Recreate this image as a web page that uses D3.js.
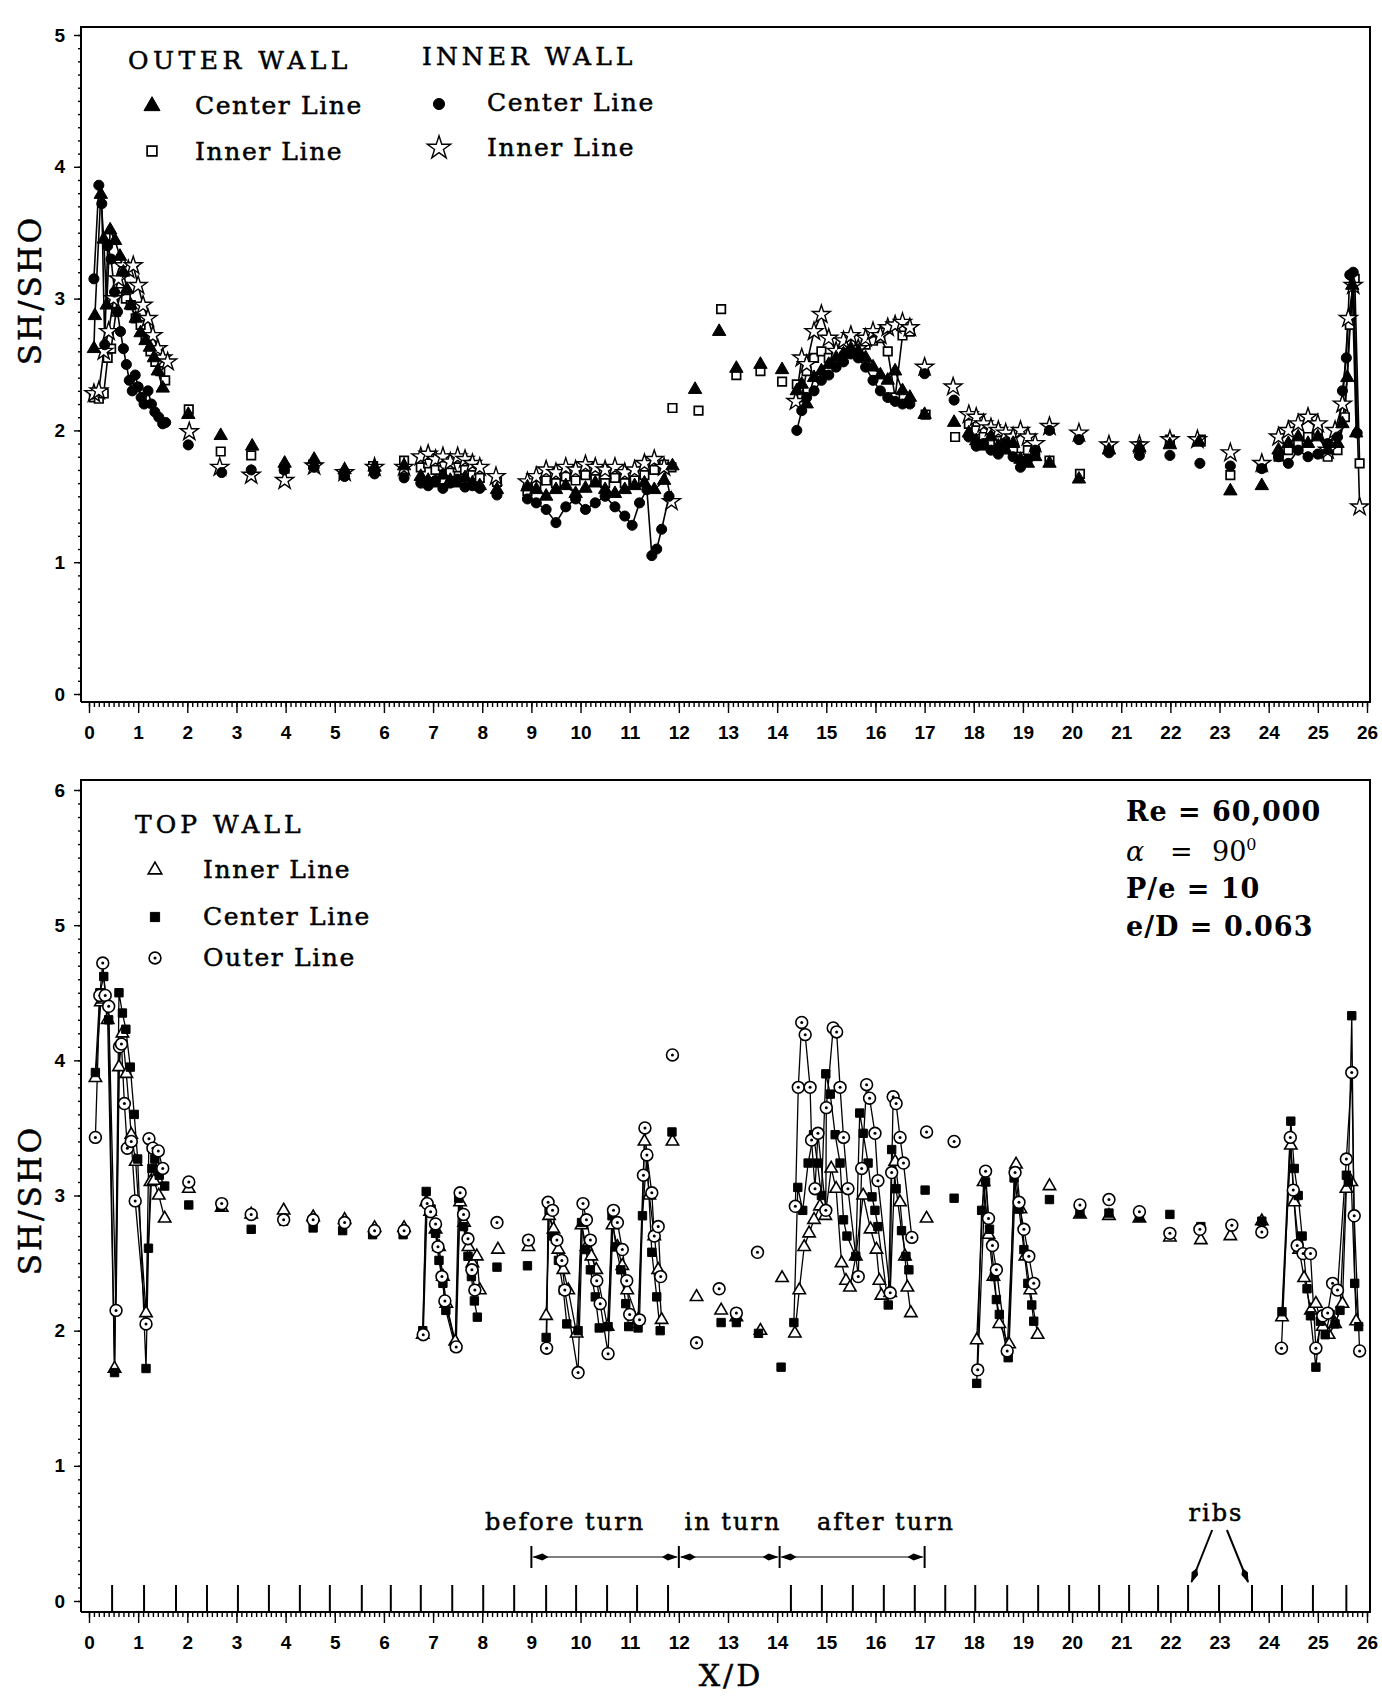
<!DOCTYPE html>
<html>
<head>
<meta charset="utf-8">
<script src="https://cdn.jsdelivr.net/npm/d3@7"></script>
<style>
  body { margin: 0; background: #fff; }
  svg { display: block; }
</style>
</head>
<body>
<svg id="chart"></svg>
<script>
// ---- axis tick labels
const xTickLabels = [0,1,2,3,4,5,6,7,8,9,10,11,12,13,14,15,16,17,18,19,20,21,22,23,24,25,26];
const yTopTicks = [0,1,2,3,4,5];
const yBotTicks = [0,1,2,3,4,5,6];

// rib positions (X/D) marked on the lower axis
const ribsBefore = [0.47,1.12,1.77,2.40,3.03,3.66,4.29,4.90,5.55,6.14,6.75,7.39,8.02,8.65,9.30,9.91,10.54,11.15,11.78];
const ribsAfter = [14.28,14.91,15.54,16.17,16.80,17.42,18.03,18.68,19.31,19.94,20.55,21.16,21.75,22.36,22.99,23.66,24.27,24.90,25.58];

// turn sections
const sectionNames = ['before turn', 'in turn', 'after turn'];
const sectionBounds = [9, 12, 14.05, 17];

// ---- top panel: outer wall / inner wall (each entry is a run, points in a run are joined)
const outerCenter = [
  [[0.10,2.62],[0.12,2.87],[0.24,3.79],[0.30,3.45],[0.36,2.95],[0.43,3.52],[0.53,3.44],[0.63,3.32],[0.70,3.20],[0.77,3.07],[0.85,2.95],[0.95,2.85],[1.05,2.74],[1.15,2.68],[1.24,2.63],[1.32,2.55],[1.40,2.45],[1.50,2.32]],
  [[2.02,2.12]],[[2.68,1.96]],[[3.32,1.88]],[[3.98,1.75]],[[4.58,1.78]],[[5.20,1.70]],[[5.81,1.72]],[[6.41,1.73]],
  [[6.75,1.65],[6.90,1.62],[7.05,1.60],[7.20,1.66],[7.35,1.62],[7.50,1.60],[7.65,1.64],[7.80,1.60],[7.95,1.58]],
  [[8.30,1.55]],[[8.92,1.57]],
  [[9.10,1.55],[9.30,1.50],[9.50,1.55],[9.70,1.58],[9.90,1.52],[10.10,1.56],[10.30,1.60],[10.50,1.55],[10.70,1.52],[10.90,1.55],[11.10,1.58],[11.30,1.60],[11.50,1.55],[11.70,1.62]],
  [[11.87,1.73]],[[12.33,2.31]],[[12.82,2.75]],[[13.17,2.47]],[[13.66,2.50]],[[14.10,2.46]],
  [[14.40,2.30],[14.50,2.35],[14.60,2.20],[14.75,2.40],[14.90,2.45],[15.05,2.50],[15.20,2.55],[15.35,2.58],[15.50,2.62],[15.65,2.60],[15.80,2.55],[15.95,2.48],[16.10,2.42],[16.25,2.38],[16.40,2.45],[16.55,2.30],[16.70,2.25]],
  [[17.00,2.12]],[[17.60,2.06]],
  [[17.90,1.98],[18.05,1.92],[18.20,1.88],[18.35,1.95],[18.50,1.88],[18.65,1.85],[18.80,1.90],[18.95,1.78],[19.10,1.75],[19.25,1.80]],
  [[19.54,1.75]],[[20.14,1.63]],[[20.75,1.85]],[[21.37,1.87]],[[21.99,1.89]],[[22.58,1.91]],[[23.22,1.54]],[[23.86,1.58]],
  [[24.20,1.85],[24.40,1.90],[24.60,1.95],[24.80,1.90],[25.00,1.95],[25.20,1.85],[25.40,1.90],[25.50,2.05],[25.60,2.40],[25.70,3.10],[25.78,1.98]]
];
const outerInner = [
  [[0.10,2.25],[0.20,2.24],[0.30,2.28],[0.38,2.55],[0.45,2.62],[0.55,2.90],[0.65,3.05],[0.75,3.00],[0.85,2.95],[0.95,2.85],[1.05,2.80],[1.15,2.70],[1.25,2.60],[1.35,2.52],[1.45,2.45],[1.55,2.38]],
  [[2.03,2.16]],[[2.68,1.84]],[[3.30,1.81]],[[3.98,1.71]],[[4.56,1.74]],[[5.18,1.67]],[[5.78,1.73]],[[6.41,1.77]],
  [[6.75,1.72],[6.90,1.75],[7.05,1.70],[7.20,1.73],[7.35,1.68],[7.50,1.72],[7.65,1.70],[7.80,1.66],[7.95,1.64]],
  [[8.30,1.61]],[[8.92,1.54]],
  [[9.10,1.58],[9.30,1.62],[9.50,1.60],[9.70,1.65],[9.90,1.62],[10.10,1.66],[10.30,1.63],[10.50,1.60],[10.70,1.64],[10.90,1.60],[11.10,1.62],[11.30,1.66],[11.50,1.70],[11.70,1.74],[11.85,1.72]],
  [[11.87,2.17]],[[12.40,2.15]],[[12.86,2.92]],[[13.17,2.42]],[[13.66,2.45]],[[14.10,2.37]],
  [[14.40,2.35],[14.50,2.25],[14.60,2.45],[14.75,2.55],[14.90,2.60],[15.05,2.55],[15.20,2.58],[15.35,2.62],[15.50,2.65],[15.65,2.60],[15.80,2.65],[15.95,2.68],[16.10,2.70],[16.25,2.60],[16.40,2.25],[16.55,2.72],[16.70,2.75]],
  [[17.02,2.12]],[[17.62,1.95]],
  [[17.90,2.05],[18.05,2.00],[18.20,1.95],[18.35,1.90],[18.50,1.92],[18.65,1.88],[18.80,1.85],[18.95,1.80],[19.10,1.85],[19.25,1.82]],
  [[19.54,1.77]],[[20.16,1.67]],[[20.75,1.88]],[[21.37,1.88]],[[21.99,1.93]],[[22.62,1.93]],[[23.22,1.66]],[[23.86,1.72]],
  [[24.20,1.80],[24.40,1.85],[24.60,1.90],[24.80,1.95],[25.00,2.00],[25.20,1.80],[25.40,1.85],[25.55,2.10],[25.65,2.80],[25.75,3.15],[25.85,1.75]]
];
const innerCenter = [
  [[0.10,3.15],[0.20,3.86],[0.26,3.72],[0.32,2.65],[0.38,3.40],[0.45,3.30],[0.52,3.05],[0.58,2.90],[0.64,2.75],[0.70,2.62],[0.76,2.50],[0.82,2.38],[0.88,2.30],[0.94,2.42],[1.00,2.33],[1.06,2.25],[1.12,2.20],[1.20,2.30],[1.27,2.20],[1.34,2.14],[1.42,2.10],[1.50,2.05],[1.56,2.06]],
  [[2.02,1.89]],[[2.70,1.68]],[[3.30,1.70]],[[3.97,1.70]],[[4.58,1.72]],[[5.20,1.65]],[[5.81,1.67]],[[6.41,1.64]],
  [[6.75,1.60],[6.90,1.58],[7.05,1.62],[7.20,1.56],[7.35,1.60],[7.50,1.63],[7.65,1.57],[7.80,1.58],[7.95,1.56]],
  [[8.30,1.51]],[[8.92,1.48]],
  [[9.10,1.45],[9.30,1.40],[9.50,1.30],[9.70,1.42],[9.90,1.48],[10.10,1.40],[10.30,1.45],[10.50,1.50],[10.70,1.42],[10.90,1.35],[11.05,1.28],[11.20,1.45],[11.35,1.55],[11.45,1.05],[11.55,1.10],[11.65,1.25],[11.80,1.50]],
  [[14.40,2.00],[14.50,2.15],[14.60,2.25],[14.75,2.30],[14.90,2.38],[15.05,2.42],[15.20,2.48],[15.35,2.52],[15.50,2.58],[15.65,2.55],[15.80,2.48],[15.95,2.38],[16.10,2.30],[16.25,2.25],[16.40,2.22],[16.55,2.20],[16.70,2.20]],
  [[17.00,2.43]],[[17.60,2.23]],
  [[17.90,1.95],[18.05,1.88],[18.20,1.90],[18.35,1.85],[18.50,1.82],[18.65,1.90],[18.80,1.80],[18.95,1.72],[19.10,1.78],[19.25,1.85]],
  [[19.54,2.00]],[[20.14,1.93]],[[20.75,1.83]],[[21.37,1.81]],[[21.99,1.81]],[[22.60,1.75]],[[23.22,1.73]],[[23.86,1.71]],
  [[24.20,1.80],[24.40,1.75],[24.60,1.85],[24.80,1.80],[25.00,1.82],[25.20,1.90],[25.40,1.95],[25.50,2.30],[25.58,2.55],[25.65,3.18],[25.72,3.20],[25.80,1.98]]
];
const innerInner = [
  [[0.10,2.28],[0.20,2.30],[0.30,2.60],[0.40,2.75],[0.50,3.00],[0.60,3.15],[0.70,3.25],[0.80,3.22],[0.90,3.25],[1.00,3.10],[1.10,2.95],[1.20,2.85],[1.30,2.72],[1.40,2.62],[1.50,2.55],[1.60,2.52]],
  [[2.04,1.99]],[[2.66,1.72]],[[3.30,1.66]],[[3.98,1.62]],[[4.58,1.73]],[[5.20,1.68]],[[5.81,1.72]],[[6.41,1.72]],
  [[6.75,1.80],[6.90,1.82],[7.05,1.78],[7.20,1.80],[7.35,1.76],[7.50,1.80],[7.65,1.78],[7.80,1.75],[7.95,1.72]],
  [[8.28,1.65]],[[8.92,1.61]],
  [[9.10,1.65],[9.30,1.70],[9.50,1.68],[9.70,1.72],[9.90,1.70],[10.10,1.74],[10.30,1.72],[10.50,1.70],[10.70,1.72],[10.90,1.68],[11.10,1.70],[11.30,1.75],[11.50,1.78],[11.70,1.72],[11.85,1.46]],
  [[14.38,2.22],[14.50,2.55],[14.60,2.50],[14.75,2.75],[14.90,2.88],[15.05,2.70],[15.20,2.60],[15.35,2.68],[15.50,2.72],[15.65,2.62],[15.80,2.70],[15.95,2.75],[16.10,2.72],[16.25,2.78],[16.40,2.80],[16.55,2.82],[16.70,2.78]],
  [[17.00,2.48]],[[17.58,2.33]],
  [[17.90,2.12],[18.05,2.10],[18.20,2.05],[18.35,2.02],[18.50,2.00],[18.65,1.98],[18.80,1.95],[18.95,2.00],[19.10,1.95],[19.25,1.90]],
  [[19.54,2.03]],[[20.14,1.98]],[[20.75,1.89]],[[21.37,1.89]],[[21.99,1.93]],[[22.55,1.93]],[[23.22,1.83]],[[23.86,1.75]],
  [[24.20,1.95],[24.40,2.00],[24.60,2.05],[24.80,2.10],[25.00,2.05],[25.20,1.85],[25.35,2.00],[25.50,2.20],[25.62,2.85],[25.72,3.10],[25.85,1.42]]
];

// ---- bottom panel: top wall
const topInner = [
  [[0.13,3.87],[0.24,4.43],[0.30,4.45],[0.38,4.30],[0.52,1.72],[0.61,3.95],[0.68,4.20],[0.76,3.90],[0.86,3.45],[0.95,3.25],[1.16,2.13],[1.25,3.10],[1.32,3.11],[1.42,3.00],[1.54,2.83]],
  [[2.03,3.05]],[[2.70,2.91]],[[3.30,2.86]],[[3.96,2.89]],[[4.56,2.84]],[[5.20,2.82]],[[5.81,2.76]],[[6.41,2.76]],
  [[6.79,1.97],[6.86,2.95],[6.94,2.88],[7.05,2.75],[7.12,2.62],[7.20,2.40],[7.27,2.20],[7.45,1.92],[7.55,2.95],[7.63,2.80],[7.72,2.62],[7.80,2.50],[7.89,2.55],[7.95,2.30]],
  [[8.32,2.60]],[[8.94,2.62]],
  [[9.30,2.11],[9.36,2.85],[9.45,2.75],[9.55,2.60],[9.65,2.45],[9.75,2.30],[9.92,1.98],[10.02,2.78],[10.12,2.62],[10.22,2.55],[10.32,2.45],[10.55,2.03],[10.65,2.78],[10.75,2.62],[10.85,2.48],[10.95,2.30],[11.17,2.08],[11.30,3.40],[11.40,3.00],[11.50,2.70],[11.58,2.45],[11.65,2.08]],
  [[11.87,3.40]],[[12.36,2.25]],[[12.86,2.15]],[[13.17,2.10]],[[13.66,2.00]],[[14.10,2.39]],
  [[14.36,1.98],[14.45,2.30],[14.55,2.62],[14.65,2.72],[14.75,2.82],[14.87,2.92],[14.98,2.85],[15.10,3.20],[15.20,3.05],[15.31,2.50],[15.40,2.37],[15.48,2.32],[15.60,2.55],[15.75,3.00],[15.90,2.75],[16.02,2.60],[16.08,2.37],[16.12,2.26],[16.30,2.28],[16.40,3.25],[16.50,2.95],[16.60,2.55],[16.65,2.32],[16.72,2.13]],
  [[17.04,2.83]],
  [[18.06,1.93],[18.20,3.10],[18.30,2.71],[18.40,2.40],[18.52,2.05],[18.72,1.90],[18.86,3.23],[18.95,2.90],[19.05,2.55],[19.15,2.30],[19.30,1.97]],
  [[19.54,3.07]],[[20.16,2.86]],[[20.75,2.85]],[[21.37,2.83]],[[21.99,2.69]],[[22.62,2.67]],[[23.22,2.70]],[[23.86,2.81]],
  [[24.27,2.10],[24.45,3.37],[24.52,2.95],[24.62,2.60],[24.72,2.39],[24.86,2.15],[24.96,2.20],[25.10,2.03],[25.22,1.97],[25.35,2.05],[25.50,2.20],[25.58,3.05],[25.68,3.10],[25.78,2.07]]
];
const topCenter = [
  [[0.13,3.91],[0.22,4.50],[0.30,4.62],[0.40,4.30],[0.52,1.69],[0.61,4.50],[0.68,4.35],[0.75,4.23],[0.84,3.95],[0.92,3.60],[0.99,3.27],[1.16,1.72],[1.21,2.61],[1.28,3.20],[1.34,3.27],[1.43,3.15],[1.54,3.07]],
  [[2.03,2.93]],[[2.68,2.92]],[[3.30,2.75]],[[3.96,2.81]],[[4.56,2.76]],[[5.16,2.74]],[[5.77,2.71]],[[6.39,2.71]],
  [[6.79,2.00],[6.86,3.03],[6.96,2.90],[7.05,2.72],[7.12,2.52],[7.20,2.35],[7.26,2.15],[7.45,1.88],[7.52,2.98],[7.62,2.77],[7.71,2.55],[7.78,2.40],[7.84,2.22],[7.90,2.10]],
  [[8.30,2.47]],[[8.92,2.48]],
  [[9.30,1.95],[9.36,2.89],[9.45,2.70],[9.55,2.52],[9.65,2.30],[9.72,2.05],[9.95,2.00],[10.02,2.80],[10.10,2.60],[10.20,2.45],[10.30,2.25],[10.38,2.02],[10.56,2.03],[10.64,2.85],[10.72,2.62],[10.82,2.45],[10.92,2.20],[10.98,2.03],[11.17,2.02],[11.26,2.85],[11.35,3.30],[11.45,2.58],[11.55,2.25],[11.62,2.00]],
  [[11.86,3.47]],[[12.36,1.91]],[[12.86,2.06]],[[13.17,2.06]],[[13.62,1.98]],[[14.08,1.73]],
  [[14.34,2.06],[14.42,3.06],[14.52,2.89],[14.63,3.24],[14.74,3.45],[14.82,3.24],[14.90,3.00],[14.99,3.90],[15.08,3.75],[15.18,3.45],[15.28,3.24],[15.35,2.82],[15.42,2.70],[15.60,2.55],[15.68,3.61],[15.75,3.46],[15.85,3.24],[15.93,2.99],[15.99,2.89],[16.05,2.77],[16.26,2.19],[16.33,3.34],[16.42,3.05],[16.53,2.74],[16.62,2.55],[16.68,2.45]],
  [[17.01,3.04]],[[17.60,2.98]],
  [[18.06,1.61],[18.16,2.89],[18.24,3.10],[18.32,2.75],[18.42,2.40],[18.46,2.23],[18.52,2.12],[18.70,1.80],[18.82,3.13],[18.92,2.90],[19.02,2.60],[19.10,2.35],[19.18,2.19],[19.22,2.07]],
  [[19.54,2.97]],[[20.16,2.87]],[[20.75,2.87]],[[21.37,2.84]],[[21.99,2.86]],[[22.62,2.77]],[[23.25,2.78]],[[23.86,2.81]],
  [[24.27,2.14],[24.45,3.55],[24.52,3.20],[24.60,3.00],[24.68,2.70],[24.78,2.31],[24.85,2.11],[24.96,1.73],[25.05,2.07],[25.15,1.97],[25.25,2.12],[25.35,2.05],[25.45,2.15],[25.58,3.15],[25.62,3.10],[25.69,4.33],[25.75,2.35],[25.83,2.03]]
];
const topOuter = [
  [[0.13,3.43],[0.22,4.48],[0.28,4.72],[0.33,4.48],[0.40,4.40],[0.55,2.15],[0.62,4.10],[0.66,4.12],[0.72,3.68],[0.78,3.35],[0.86,3.40],[0.94,2.96],[1.16,2.05],[1.22,3.42],[1.30,3.35],[1.41,3.33],[1.50,3.20]],
  [[2.03,3.10]],[[2.70,2.94]],[[3.30,2.86]],[[3.96,2.82]],[[4.56,2.82]],[[5.20,2.80]],[[5.81,2.74]],[[6.41,2.74]],
  [[6.80,1.97],[6.88,2.94],[6.95,2.88],[7.05,2.79],[7.10,2.62],[7.18,2.40],[7.24,2.22],[7.47,1.88],[7.55,3.02],[7.62,2.86],[7.71,2.68],[7.79,2.45],[7.85,2.30]],
  [[8.30,2.80]],[[8.94,2.67]],
  [[9.31,1.87],[9.34,2.95],[9.43,2.89],[9.52,2.67],[9.62,2.52],[9.68,2.30],[9.95,1.69],[10.05,2.94],[10.12,2.82],[10.20,2.67],[10.33,2.37],[10.40,2.20],[10.56,1.83],[10.67,2.89],[10.75,2.80],[10.85,2.60],[10.94,2.37],[11.00,2.12],[11.20,2.08],[11.28,3.15],[11.31,3.50],[11.35,3.30],[11.45,3.02],[11.50,2.70],[11.58,2.77],[11.63,2.40]],
  [[11.87,4.04]],[[12.36,1.91]],[[12.82,2.31]],[[13.17,2.13]],[[13.60,2.58]],
  [[14.37,2.92],[14.43,3.80],[14.50,4.28],[14.57,4.19],[14.67,3.80],[14.70,3.41],[14.77,3.05],[14.83,3.46],[14.99,2.89],[15.00,3.65],[15.14,4.24],[15.21,4.21],[15.28,3.80],[15.35,3.43],[15.44,3.05],[15.65,2.40],[15.72,3.20],[15.82,3.82],[15.88,3.72],[15.99,3.46],[16.05,3.11],[16.30,2.28],[16.33,3.17],[16.36,3.73],[16.42,3.68],[16.50,3.43],[16.57,3.24],[16.74,2.69]],
  [[17.04,3.47]],[[17.60,3.40]],
  [[18.08,1.71],[18.24,3.18],[18.30,2.83],[18.38,2.63],[18.46,2.45],[18.68,1.85],[18.84,3.17],[18.92,2.95],[19.02,2.75],[19.12,2.55],[19.22,2.35]],
  [[20.16,2.93]],[[20.75,2.97]],[[21.37,2.88]],[[21.99,2.72]],[[22.60,2.75]],[[23.25,2.78]],[[23.86,2.73]],
  [[24.26,1.87],[24.44,3.43],[24.50,3.04],[24.58,2.63],[24.70,2.57],[24.85,2.57],[24.96,1.87],[25.10,2.11],[25.20,2.13],[25.30,2.35],[25.40,2.30],[25.58,3.27],[25.69,3.91],[25.74,2.85],[25.85,1.85]]
];

// ---- page
const W = 1382, H = 1698;
const svg = d3.select('#chart').attr('width', W).attr('height', H);

const x = d3.scaleLinear().domain([0, 26]).range([89, 1367]);
const yTop = d3.scaleLinear().domain([0, 5]).range([694, 35]);
const yBot = d3.scaleLinear().domain([0, 6]).range([1601, 790]);

const frameTop = { left: 81, top: 27, right: 1370, bottom: 702 };
const frameBot = { left: 81, top: 780, right: 1370, bottom: 1612 };

const SERIF = '"DejaVu Serif", "Liberation Serif", serif';
const SANS = '"Liberation Sans", "DejaVu Sans", sans-serif';

const STY = {
  triFill:  { type: d3.symbolTriangle, size: 78,  fill: '#000', sw: 1 },
  sqOpen:   { type: d3.symbolSquare,   size: 72,  fill: '#fff', sw: 1.7 },
  circFill: { type: d3.symbolCircle,   size: 80,  fill: '#000', sw: 1 },
  starOpen: { type: d3.symbolStar,     size: 100, fill: '#fff', sw: 1.4 },
  triOpen:  { type: d3.symbolTriangle, size: 66,  fill: '#fff', sw: 1.6 },
  sqFill:   { type: d3.symbolSquare,   size: 70,  fill: '#000', sw: 1 },
  circDot:  { type: d3.symbolCircle,   size: 110, fill: '#fff', sw: 1.6, dot: true }
};

function drawMarker(sel, s, scale = 1) {
  sel.append('path')
    .attr('d', d3.symbol().type(s.type).size(s.size * scale * scale)())
    .attr('fill', s.fill)
    .attr('stroke', '#000')
    .attr('stroke-width', s.sw);
  if (s.dot) sel.append('circle').attr('r', 1.5).attr('fill', '#000');
}

function drawFrame(f, y, yTicks) {
  const g = svg.append('g');

  // x minor + major ticks
  const xMinor = d3.range(0, 260.5).map(i => i / 10);
  g.append('g')
    .attr('transform', `translate(0,${f.bottom})`)
    .call(d3.axisBottom(x).tickValues(xMinor).tickSize(5).tickSizeOuter(0).tickFormat(''))
    .call(a => a.select('.domain').remove());
  const xa = g.append('g')
    .attr('transform', `translate(0,${f.bottom})`)
    .call(d3.axisBottom(x).tickValues(xTickLabels).tickSize(11).tickSizeOuter(0).tickPadding(13).tickFormat(d3.format('d')))
    .call(a => a.select('.domain').remove());
  xa.selectAll('text')
    .attr('font-family', SANS).attr('font-weight', 'bold').attr('font-size', 19);

  // y minor + major ticks
  const [y0, y1] = y.domain();
  const yMinor = d3.range(y0 * 10, y1 * 10 + 0.5).map(i => i / 10);
  g.append('g')
    .attr('transform', `translate(${f.left},0)`)
    .call(d3.axisLeft(y).tickValues(yMinor).tickSize(3).tickSizeOuter(0).tickFormat(''))
    .call(a => a.select('.domain').remove());
  const ya = g.append('g')
    .attr('transform', `translate(${f.left},0)`)
    .call(d3.axisLeft(y).tickValues(yTicks).tickSize(7).tickSizeOuter(0).tickPadding(9).tickFormat(d3.format('d')))
    .call(a => a.select('.domain').remove());
  ya.selectAll('text')
    .attr('font-family', SANS).attr('font-weight', 'bold').attr('font-size', 19);

  g.selectAll('.tick line').attr('stroke', '#000').attr('stroke-width', 1.4);

  // frame
  g.append('path')
    .attr('d', `M${f.left},${f.bottom}V${f.top}H${f.right}V${f.bottom}H${f.left}`)
    .attr('fill', 'none').attr('stroke', '#000').attr('stroke-width', 2);
}

function plotLines(g, y, runs, w) {
  const line = d3.line().x(d => x(d[0])).y(d => y(d[1]));
  g.append('g').selectAll('path')
    .data(runs.filter(r => r.length > 1))
    .join('path')
    .attr('d', line)
    .attr('fill', 'none')
    .attr('stroke', '#000')
    .attr('stroke-width', w);
}

function plotMarkers(g, y, runs, s) {
  const pts = g.append('g').selectAll('g')
    .data(runs.flat())
    .join('g')
    .attr('transform', d => `translate(${x(d[0])},${y(d[1])})`);
  drawMarker(pts, s);
}

function serifText(sel) {
  return sel.attr('font-family', SERIF).attr('stroke', '#000').attr('stroke-width', 0.5);
}

function ylabel(cy) {
  serifText(svg.append('text'))
    .attr('transform', `translate(41,${cy}) rotate(-90)`)
    .attr('text-anchor', 'middle')
    .attr('font-size', 31).attr('letter-spacing', 3)
    .text('SH/SHO');
}

// ---------- TOP PANEL
drawFrame(frameTop, yTop, yTopTicks);
const gt = svg.append('g');
const topSeries = [
  [outerInner, STY.sqOpen], [innerInner, STY.starOpen],
  [outerCenter, STY.triFill], [innerCenter, STY.circFill]
];
topSeries.forEach(([r]) => plotLines(gt, yTop, r, 1.6));
topSeries.forEach(([r, s]) => plotMarkers(gt, yTop, r, s));
ylabel(290);

// legend (top)
function legendText(xp, yp, txt, opts = {}) {
  serifText(svg.append('text'))
    .attr('x', xp).attr('y', yp)
    .attr('font-size', opts.size || 25)
    .attr('letter-spacing', opts.ls == null ? 1.6 : opts.ls)
    .text(txt);
}
function legendMark(xp, yp, s, scale) {
  drawMarker(svg.append('g').attr('transform', `translate(${xp},${yp})`), s, scale);
}
legendText(128, 69, 'OUTER WALL', { ls: 4.5 });
legendText(422, 65, 'INNER WALL', { ls: 4 });
legendMark(152, 106, STY.triFill, 1.2);
legendText(195, 114, 'Center Line');
legendMark(152, 151, STY.sqOpen, 1.15);
legendText(195, 160, 'Inner Line');
legendMark(439, 104, STY.circFill, 1.1);
legendText(487, 111, 'Center Line');
legendMark(439, 148, STY.starOpen, 1.3);
legendText(487, 156, 'Inner Line');

// ---------- BOTTOM PANEL
drawFrame(frameBot, yBot, yBotTicks);

// rib marks on the lower axis
svg.append('g').selectAll('line')
  .data(ribsBefore.concat(ribsAfter))
  .join('line')
  .attr('x1', d => x(d)).attr('x2', d => x(d))
  .attr('y1', frameBot.bottom).attr('y2', frameBot.bottom - 27)
  .attr('stroke', '#000').attr('stroke-width', 2);

const gb = svg.append('g');
const botSeries = [
  [topInner, STY.triOpen], [topCenter, STY.sqFill], [topOuter, STY.circDot]
];
botSeries.forEach(([r]) => plotLines(gb, yBot, r, 1.3));
botSeries.forEach(([r, s]) => plotMarkers(gb, yBot, r, s));
ylabel(1200);

legendText(135, 833, 'TOP WALL', { ls: 4 });
legendMark(155, 870, STY.triOpen, 1.1);
legendText(203, 878, 'Inner Line');
legendMark(155, 917, STY.sqFill, 1.1);
legendText(203, 925, 'Center Line');
legendMark(155, 958, STY.circDot, 1.0);
legendText(203, 966, 'Outer Line');

// parameters
const params = svg.append('g')
  .attr('font-family', SERIF).attr('font-weight', 'bold').attr('font-size', 27);
params.append('text').attr('x', 1126).attr('y', 821).attr('letter-spacing', 1).text('Re = 60,000');
const alpha = params.append('text').attr('x', 1126).attr('y', 861).attr('font-weight', 'normal');
alpha.append('tspan').attr('font-style', 'italic').text('α');
alpha.append('tspan').attr('x', 1170).text('=');
alpha.append('tspan').attr('x', 1212).text('90');
alpha.append('tspan').attr('dy', -11).attr('font-size', 16).text('0');
params.append('text').attr('x', 1126).attr('y', 898).attr('letter-spacing', 1).text('P/e = 10');
params.append('text').attr('x', 1126).attr('y', 936).attr('letter-spacing', 1).text('e/D = 0.063');

// turn sections
const defs = svg.append('defs');
defs.append('marker')
  .attr('id', 'head').attr('viewBox', '0 -4 16 8')
  .attr('refX', 15).attr('refY', 0)
  .attr('markerUnits', 'userSpaceOnUse')
  .attr('markerWidth', 16).attr('markerHeight', 8)
  .attr('orient', 'auto-start-reverse')
  .append('path').attr('d', 'M0,0L6,-3.5L16,0L6,3.5Z').attr('fill', '#000');

const annoY = 1557;
svg.append('g').selectAll('line')
  .data(sectionBounds)
  .join('line')
  .attr('x1', d => x(d)).attr('x2', d => x(d))
  .attr('y1', annoY - 11).attr('y2', annoY + 11)
  .attr('stroke', '#000').attr('stroke-width', 2);
svg.append('g').selectAll('line')
  .data(d3.pairs(sectionBounds))
  .join('line')
  .attr('x1', d => x(d[0]) + 2).attr('x2', d => x(d[1]) - 2)
  .attr('y1', annoY).attr('y2', annoY)
  .attr('stroke', '#000').attr('stroke-width', 1.2)
  .attr('marker-start', 'url(#head)').attr('marker-end', 'url(#head)');
serifText(svg.append('g').selectAll('text')
  .data(d3.pairs(sectionBounds))
  .join('text'))
  .attr('x', (d, i) => [565, 733, 886][i])
  .attr('y', 1530)
  .attr('text-anchor', 'middle')
  .attr('font-size', 24).attr('letter-spacing', 2)
  .text((d, i) => sectionNames[i]);

// ribs pointer
serifText(svg.append('text'))
  .attr('x', 1216).attr('y', 1521)
  .attr('text-anchor', 'middle')
  .attr('font-size', 24).attr('letter-spacing', 2)
  .text('ribs');
const ribPointers = [[22.85, 22.43], [23.15, 23.58]];
svg.append('g').selectAll('line')
  .data(ribPointers)
  .join('line')
  .attr('x1', d => x(d[0])).attr('y1', 1530)
  .attr('x2', d => x(d[1])).attr('y2', 1582)
  .attr('stroke', '#000').attr('stroke-width', 2)
  .attr('marker-end', 'url(#head)');

// x label
serifText(svg.append('text'))
  .attr('x', 731).attr('y', 1686)
  .attr('text-anchor', 'middle')
  .attr('font-size', 30).attr('letter-spacing', 3)
  .text('X/D');
</script>
</body>
</html>
